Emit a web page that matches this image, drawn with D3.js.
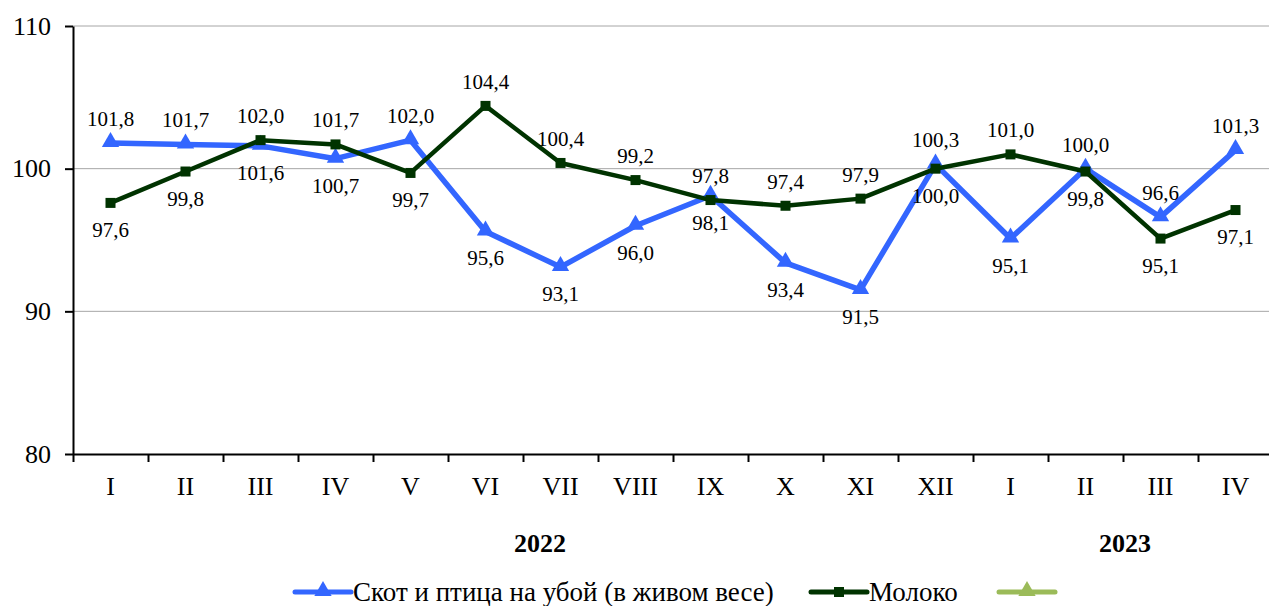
<!DOCTYPE html>
<html>
<head>
<meta charset="utf-8">
<script src="https://cdn.jsdelivr.net/npm/d3@7"></script>
<style>
  body { margin: 0; background: #fff; }
  svg { font-family: "Times New Roman", "Liberation Serif", serif; }
  .grid line { stroke: #a6a6a6; stroke-width: 1; }
  .axis path, .axis line { stroke: #000; stroke-width: 2; }
  .axis text { fill: #000; }
</style>
</head>
<body>
<div id="chart"></div>
<script>
// months (roman), grouped by year
var months = ["I","II","III","IV","V","VI","VII","VIII","IX","X","XI","XII","I","II","III","IV"];
var years = ["2022", "2023"];
var yearSpan = [[0, 11], [12, 15]];

var skot   = [101.8, 101.7, 101.6, 100.7, 102.0, 95.6, 93.1, 96.0, 98.1, 93.4, 91.5, 100.3, 95.1, 100.0, 96.6, 101.3];
var moloko = [97.6, 99.8, 102.0, 101.7, 99.7, 104.4, 100.4, 99.2, 97.8, 97.4, 97.9, 100.0, 101.0, 99.8, 95.1, 97.1];
// true where the label of "Скот" sits above its point
var skotAbove = [true, true, false, false, true, false, false, false, false, false, false, true, false, true, true, true];

var yTicks = [80, 90, 100, 110];
var seriesNames = ["Скот и птица на убой (в живом весе)", "Молоко", ""];

var width = 1269, height = 606;
var blue = "#3366ff", green = "#003300", lightGreen = "#9bbb59";

var svg = d3.select("#chart").append("svg")
    .attr("width", width)
    .attr("height", height);

var x = d3.scaleBand().domain(d3.range(months.length)).range([73, 1273]);
var y = d3.scaleLinear().domain([80, 110]).range([454, 26]);

var fmt = function(v) { return d3.format(".1f")(v).replace(".", ","); };
var cx = function(i) { return x(i) + x.bandwidth() / 2; };

// gridlines
svg.append("g")
    .attr("class", "grid")
  .selectAll("line")
  .data(yTicks.slice(1))
  .enter().append("line")
    .attr("x1", 73).attr("x2", 1273)
    .attr("y1", function(d) { return y(d); })
    .attr("y2", function(d) { return y(d); });

// y axis
svg.append("g")
    .attr("class", "axis")
    .attr("transform", "translate(73,0)")
    .call(d3.axisLeft(y).tickValues(yTicks).tickSize(8).tickSizeOuter(0).tickPadding(14))
    .attr("font-family", null)
    .attr("font-size", "26px");

// x axis, ticks between categories
var xb = d3.scaleLinear().domain([0, months.length]).range([73, 1273]);
svg.append("g")
    .attr("class", "axis")
    .attr("transform", "translate(0," + y(80) + ")")
    .call(d3.axisBottom(xb).tickValues(d3.range(months.length + 1)).tickSize(8).tickSizeOuter(0).tickFormat(""));

svg.append("g")
  .selectAll("text")
  .data(months)
  .enter().append("text")
    .attr("x", function(d, i) { return cx(i); })
    .attr("y", 495)
    .attr("text-anchor", "middle")
    .attr("font-size", "26px")
    .text(function(d) { return d; });

// year labels
var yearNudge = [17, 2];
svg.append("g")
  .selectAll("text")
  .data(years)
  .enter().append("text")
    .attr("x", function(d, i) { return (cx(yearSpan[i][0]) + cx(yearSpan[i][1])) / 2 + yearNudge[i]; })
    .attr("y", 552)
    .attr("text-anchor", "middle")
    .attr("font-size", "26px")
    .attr("font-weight", "bold")
    .text(function(d) { return d; });

var line = d3.line()
    .x(function(d, i) { return cx(i); })
    .y(function(d) { return y(d); });

var tri = d3.symbol().type(d3.symbolTriangle).size(130);

// Скот line
svg.append("path")
    .datum(skot)
    .attr("fill", "none")
    .attr("stroke", blue)
    .attr("stroke-width", 5.5)
    .attr("stroke-linejoin", "round")
    .attr("d", line);

svg.append("g")
  .selectAll("path")
  .data(skot)
  .enter().append("path")
    .attr("d", tri)
    .attr("fill", blue)
    .attr("transform", function(d, i) { return "translate(" + cx(i) + "," + (y(d) - 1) + ")"; });

// Молоко line
svg.append("path")
    .datum(moloko)
    .attr("fill", "none")
    .attr("stroke", green)
    .attr("stroke-width", 4.5)
    .attr("stroke-linejoin", "round")
    .attr("d", line);

svg.append("g")
  .selectAll("rect")
  .data(moloko)
  .enter().append("rect")
    .attr("x", function(d, i) { return cx(i) - 5; })
    .attr("y", function(d) { return y(d) - 5; })
    .attr("width", 10).attr("height", 10)
    .attr("fill", green);

// data labels
var labels = svg.append("g").attr("font-size", "21px").attr("text-anchor", "middle");

labels.selectAll(".ls")
  .data(skot)
  .enter().append("text")
    .attr("class", "ls")
    .attr("x", function(d, i) { return cx(i); })
    .attr("y", function(d, i) { return skotAbove[i] ? y(d) - 17 : y(d) + 34; })
    .text(fmt);

labels.selectAll(".lm")
  .data(moloko)
  .enter().append("text")
    .attr("class", "lm")
    .attr("x", function(d, i) { return cx(i); })
    .attr("y", function(d, i) { return skotAbove[i] ? y(d) + 34 : y(d) - 17; })
    .text(fmt);

// legend
var legend = svg.append("g").attr("transform", "translate(0,592)");
var legItems = [
  {x: 295, color: blue, mark: "tri", text: seriesNames[0]},
  {x: 811, color: green, mark: "sq", text: seriesNames[1]},
  {x: 999, color: lightGreen, mark: "tri", text: seriesNames[2]}
];
legItems.forEach(function(d) {
  var g = legend.append("g").attr("transform", "translate(" + d.x + ",0)");
  g.append("line")
      .attr("x1", 0).attr("x2", 56)
      .attr("stroke", d.color).attr("stroke-width", 5).attr("stroke-linecap", "round");
  if (d.mark === "tri") {
    g.append("path").attr("d", tri).attr("fill", d.color).attr("transform", "translate(28,-1)");
  } else {
    g.append("rect").attr("x", 23).attr("y", -5).attr("width", 10).attr("height", 10).attr("fill", d.color);
  }
  g.append("text")
      .attr("x", 58).attr("y", 9)
      .attr("font-size", "27px")
      .text(d.text);
});
</script>
</body>
</html>
